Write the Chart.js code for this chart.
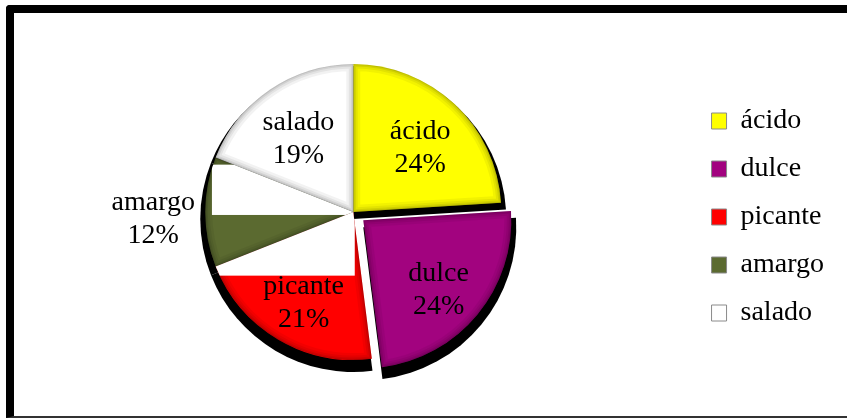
<!DOCTYPE html>
<html>
<head>
<meta charset="utf-8">
<script src="https://cdn.jsdelivr.net/npm/chart.js@4.4.1/dist/chart.umd.min.js"></script>
<style>
  body { margin: 0; background: #fff; }
  .frame {
    position: absolute; left: 6px; top: 5px; width: 1000px; height: 413px;
    box-sizing: border-box;
    border-left: 8px solid #000; border-top: 8px solid #000; border-bottom: 2px solid #333;
    border-top-left-radius: 4px;
  }
  #tasteChart { position: absolute; left: 0; top: 0; }
</style>
</head>
<body>
<div class="frame"></div>
<canvas id="tasteChart" width="847" height="418"></canvas>
<script>
const categories = ['ácido', 'dulce', 'picante', 'amargo', 'salado'];
const shares = [24, 24, 21, 12, 19];
const sliceColors = ['#FFFF00', '#A2037F', '#FF0000', '#5B6A30', '#FFFFFF'];

const serif = "'Liberation Serif', 'Times New Roman', serif";
Chart.defaults.font.family = serif;
Chart.defaults.color = '#000';

// wedge outline of an arc element, following the library's offset (drawn at offset/4)
function wedge(ctx, arc, grow, dx, dy) {
  const p = arc.getProps(['x', 'y', 'startAngle', 'endAngle', 'outerRadius'], true);
  const off = (arc.options.offset || 0) / 4;
  const mid = (p.startAngle + p.endAngle) / 2;
  const x = p.x + Math.cos(mid) * off + dx;
  const y = p.y + Math.sin(mid) * off + dy;
  ctx.beginPath();
  ctx.moveTo(x, y);
  ctx.arc(x, y, p.outerRadius + grow, p.startAngle, p.endAngle);
  ctx.closePath();
  return {x, y, r: p.outerRadius, mid};
}

const pieDecor = {
  id: 'pieDecor',
  beforeDatasetsDraw(chart) {
    // dark drop shadow under the pie
    const ctx = chart.ctx;
    ctx.save();
    ctx.fillStyle = '#000';
    chart.getDatasetMeta(0).data.forEach(arc => { wedge(ctx, arc, 5, 0, 7); ctx.fill(); });
    ctx.restore();
  },
  afterDatasetsDraw(chart) {
    const ctx = chart.ctx;
    const arcs = chart.getDatasetMeta(0).data;

    // soft inner edge on every wedge
    arcs.forEach(arc => {
      ctx.save();
      wedge(ctx, arc, 0, 0, 0);
      ctx.clip();
      [[14, 0.05], [9, 0.06], [5, 0.08], [2, 0.1]].forEach(([w, a]) => {
        ctx.lineWidth = w;
        ctx.strokeStyle = 'rgba(0,0,0,' + a + ')';
        ctx.stroke();
      });
      ctx.restore();
    });

    // white panels over the upper parts of picante and amargo
    const panel = (idx, x0, y0, x1, y1) => {
      ctx.save();
      const g = wedge(ctx, arcs[idx], 0, 0, 0);
      ctx.clip();
      ctx.fillStyle = '#fff';
      ctx.fillRect(g.x + x0 * g.r, g.y + y0 * g.r, (x1 - x0) * g.r, (y1 - y0) * g.r);
      ctx.restore();
    };
    panel(categories.indexOf('amargo'), -0.955, -0.32, 0, 0.02);
    panel(categories.indexOf('picante'), -0.94, 0, 0.01, 0.43);

    // two-line value labels
    ctx.save();
    ctx.font = '28px ' + serif;
    ctx.fillStyle = '#000';
    ctx.textAlign = 'center';
    ctx.textBaseline = 'middle';
    arcs.forEach((arc, i) => {
      const p = arc.getProps(['x', 'y', 'startAngle', 'endAngle', 'outerRadius'], true);
      const off = (arc.options.offset || 0) / 4;
      const mid = (p.startAngle + p.endAngle) / 2;
      const dist = shares[i] < 15 ? p.outerRadius + 52 : p.outerRadius * 0.66 + off;
      const x = p.x + Math.cos(mid) * dist;
      const y = p.y + Math.sin(mid) * dist;
      ctx.fillText(categories[i], x, y - 9);
      ctx.fillText(shares[i] + '%', x, y + 24);
    });
    ctx.restore();
  }
};

new Chart(document.getElementById('tasteChart'), {
  type: 'pie',
  data: {
    labels: categories,
    datasets: [{
      data: shares,
      backgroundColor: sliceColors,
      borderWidth: 0,
      offset: ctx => categories[ctx.dataIndex] === 'dulce' ? 52 : 0
    }]
  },
  options: {
    responsive: false,
    devicePixelRatio: 1,
    animation: false,
    layout: { padding: { left: 15, right: 13, top: 38, bottom: 32 } },
    plugins: {
      tooltip: { enabled: false },
      legend: {
        position: 'right',
        align: 'center',
        title: { display: true, text: ' ', font: { size: 5 }, padding: 2 },
        labels: {
          boxWidth: 15,
          boxHeight: 16,
          padding: 20,
          font: { size: 28, family: serif },
          color: '#000',
          generateLabels(chart) {
            return categories.map((c, i) => ({
              text: c,
              fillStyle: sliceColors[i],
              strokeStyle: '#8a8a8a',
              lineWidth: 1,
              index: i
            }));
          }
        }
      }
    }
  },
  plugins: [pieDecor]
});
</script>
</body>
</html>
